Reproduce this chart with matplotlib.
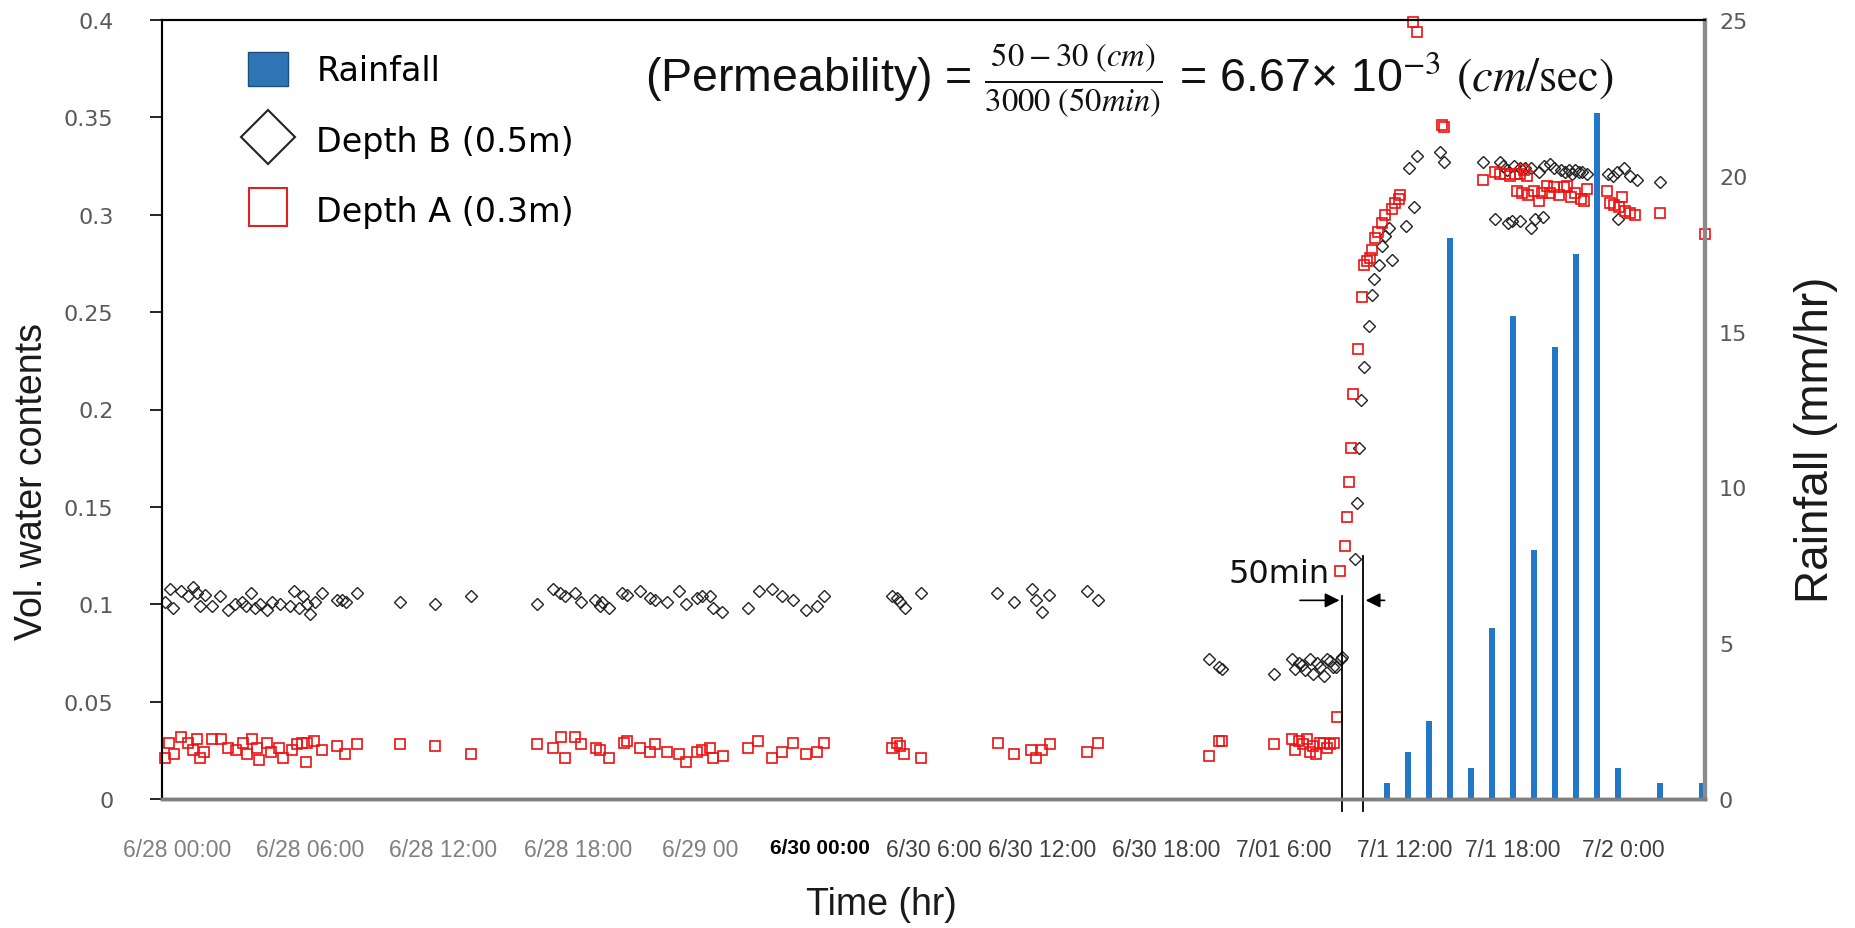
import matplotlib
matplotlib.use("Agg")
import matplotlib.pyplot as plt
from matplotlib.patches import Patch
from matplotlib.lines import Line2D

plt.rcParams['mathtext.fontset'] = 'stix'

# x is elapsed time in (approximate) hours from the left edge of the chart
tick_pos = [0.85, 7.65, 14.45, 21.3, 27.55, 33.65, 39.45, 45.0, 51.3, 57.3, 63.5, 69.0, 74.65]
tick_labels = ["6/28 00:00", "6/28 06:00", "6/28 12:00", "6/28 18:00", "6/29 00", "6/30 00:00",
               "6/30 6:00", "6/30 12:00", "6/30 18:00", "7/01 6:00", "7/1 12:00", "7/1 18:00", "7/2 0:00"]
tick_colors = ['#808080'] * 5 + ['#000000'] + ['#404040'] * 7

vwc_ticks = [0, 0.05, 0.1, 0.15, 0.2, 0.25, 0.3, 0.35, 0.4]
vwc_tick_labels = ['0', '0.05', '0.1', '0.15', '0.2', '0.25', '0.3', '0.35', '0.4']
rain_ticks = [0, 5, 10, 15, 20, 25]

# hourly rainfall (mm/hr)
rain_t = [62.6, 63.67, 64.74, 65.81, 66.88, 67.95, 69.02, 70.09, 71.16, 72.23, 73.3, 74.37, 76.51, 78.65]
rain_mm = [0.5, 1.5, 2.5, 18, 1, 5.5, 15.5, 8, 14.5, 17.5, 22, 1, 0.5, 0.5]

# Depth B (0.5 m) volumetric water content
depth_b_t = [0.26, 0.51, 0.68, 1.05, 1.45, 1.67, 1.87, 2.04, 2.30, 2.64, 3.06, 3.49, 3.83, 4.17, 4.39,
             4.63, 4.85, 5.10, 5.44, 5.70, 6.12, 6.63, 6.84, 7.11, 7.31, 7.48, 7.65, 7.91, 8.28, 9.01,
             9.27, 9.49, 10.07, 12.24, 14.03, 15.85, 19.25, 20.03, 20.41, 20.66, 21.17,
             21.46, 22.20, 22.42, 22.54, 22.88, 23.56, 23.81, 24.49, 25.00, 25.26, 25.85, 26.45, 26.84,
             27.38, 27.64, 28.06, 28.20, 28.66, 29.97, 30.53, 31.21, 31.72, 32.28, 32.96, 33.50, 33.85,
             37.33, 37.59, 37.76, 38.01, 38.81,
             42.69, 43.58, 44.48, 44.70, 44.99, 45.33, 47.28, 47.83,
             53.49, 54.00, 54.17, 56.84, 57.74, 57.91, 58.08, 58.25, 58.42, 58.64, 58.81, 59.02, 59.15,
             59.36, 59.53, 59.66, 59.83, 60.00, 60.21, 60.29,
             60.95, 61.05, 61.15, 61.25, 61.39, 61.65, 61.82, 61.94, 62.16, 62.33, 62.50, 62.67, 62.84,
             63.57, 63.94, 63.69, 64.11, 65.30, 65.47,
             67.46, 68.36, 68.50, 68.70, 69.04, 69.38, 69.64, 69.93, 70.32, 70.61, 70.91, 71.08, 71.43,
             71.68, 71.85, 72.02, 72.19, 72.36, 72.53, 72.79, 73.84, 74.11, 74.32, 74.69, 75.00, 75.34,
             76.49,
             68.11, 68.74, 68.96, 69.38, 69.93, 70.15, 70.54, 74.35]
depth_b = [0.101, 0.108, 0.098, 0.107, 0.104, 0.109, 0.106, 0.099, 0.105, 0.099, 0.104, 0.097, 0.100,
           0.101, 0.099, 0.106, 0.098, 0.100, 0.097, 0.101, 0.100, 0.099, 0.107, 0.098, 0.104, 0.100,
           0.095, 0.101, 0.106, 0.102, 0.102, 0.101, 0.106, 0.101, 0.100, 0.104, 0.100, 0.108, 0.106,
           0.104, 0.106,
           0.101, 0.102, 0.099, 0.101, 0.098, 0.106, 0.105, 0.107, 0.103, 0.102, 0.101, 0.107, 0.100,
           0.103, 0.104, 0.104, 0.098, 0.096, 0.098, 0.107, 0.108, 0.104, 0.102, 0.097, 0.099, 0.104,
           0.104, 0.103, 0.101, 0.098, 0.106,
           0.106, 0.101, 0.108, 0.102, 0.096, 0.105, 0.107, 0.102,
           0.072, 0.068, 0.067, 0.064, 0.072, 0.067, 0.070, 0.069, 0.066, 0.072, 0.064, 0.070, 0.068,
           0.063, 0.072, 0.071, 0.068, 0.068, 0.072, 0.073,
           0.123, 0.152, 0.180, 0.205, 0.222, 0.243, 0.259, 0.267, 0.274, 0.284, 0.289, 0.293, 0.277,
           0.294, 0.304, 0.324, 0.330, 0.332, 0.327,
           0.327, 0.327, 0.325, 0.323, 0.325, 0.324, 0.324, 0.324, 0.322, 0.325, 0.326, 0.324, 0.323,
           0.322, 0.323, 0.321, 0.323, 0.322, 0.322, 0.321, 0.321, 0.320, 0.322, 0.324, 0.320, 0.318,
           0.317,
           0.298, 0.296, 0.297, 0.297, 0.293, 0.298, 0.299, 0.298]

# Depth A (0.3 m) volumetric water content
depth_a_t = [0.26, 0.48, 0.71, 1.05, 1.45, 1.67, 1.90, 2.04, 2.24, 2.64, 3.10, 3.49, 3.88, 4.22, 4.46,
             4.68, 4.93, 5.07, 5.44, 5.65, 6.09, 6.26, 6.72, 7.01, 7.23, 7.45, 7.48, 7.86, 8.28, 9.05,
             9.44, 10.07, 12.24, 14.03, 15.85, 19.25, 20.03, 20.44, 20.66, 21.17,
             21.46, 22.25, 22.42, 22.88, 23.64, 23.81, 24.46, 25.00, 25.26, 25.85, 26.45, 26.84, 27.38,
             27.64, 28.06, 28.20, 28.69, 29.97, 30.48, 31.21, 31.72, 32.28, 32.96, 33.50, 33.85,
             37.33, 37.59, 37.76, 37.93, 38.81,
             42.72, 43.58, 44.43, 44.70, 44.99, 45.38, 47.28, 47.83,
             53.49, 54.00, 54.17, 56.84, 57.74, 57.91, 58.08, 58.30, 58.50, 58.64, 58.81, 58.98, 59.15,
             59.36, 59.53, 59.66, 59.87, 60.04, 60.18,
             60.45, 60.55, 60.65, 60.75, 60.85, 61.08, 61.31, 61.39, 61.56, 61.73, 61.82, 61.99, 62.11,
             62.33, 62.50, 62.84, 63.01, 63.18, 63.26, 63.91, 64.11, 65.39, 65.50,
             67.46, 68.11, 68.36, 68.62, 68.87, 69.13, 69.38, 69.55, 69.72,
             69.21, 69.47, 69.76, 70.07, 70.32, 70.49, 70.74, 70.91, 71.08, 71.34, 71.59, 71.77, 71.94,
             72.19, 72.45, 72.61, 72.79, 73.81, 73.98, 74.15, 74.40, 74.57, 74.74, 75.00, 75.25, 76.49,
             78.82]
depth_a = [0.021, 0.029, 0.023, 0.032, 0.029, 0.025, 0.031, 0.021, 0.024, 0.031, 0.031, 0.026, 0.025,
           0.029, 0.023, 0.031, 0.026, 0.020, 0.029, 0.024, 0.026, 0.021, 0.025, 0.028, 0.029, 0.019,
           0.029, 0.030, 0.025, 0.027, 0.023, 0.028, 0.028, 0.027, 0.023, 0.028, 0.026, 0.032, 0.021,
           0.032,
           0.028, 0.026, 0.025, 0.021, 0.029, 0.030, 0.026, 0.024, 0.028, 0.024, 0.023, 0.019, 0.024,
           0.025, 0.026, 0.021, 0.022, 0.026, 0.030, 0.021, 0.024, 0.029, 0.023, 0.024, 0.029,
           0.026, 0.029, 0.027, 0.023, 0.021,
           0.029, 0.023, 0.025, 0.021, 0.025, 0.028, 0.024, 0.029,
           0.022, 0.030, 0.030, 0.028, 0.031, 0.025, 0.030, 0.028, 0.031, 0.024, 0.027, 0.023, 0.029,
           0.029, 0.026, 0.028, 0.029, 0.042, 0.117,
           0.130, 0.145, 0.163, 0.180, 0.208, 0.231, 0.258, 0.274, 0.276, 0.278, 0.282, 0.288, 0.291,
           0.296, 0.300, 0.303, 0.306, 0.308, 0.310, 0.399, 0.394, 0.346, 0.345,
           0.318, 0.322, 0.321, 0.321, 0.320, 0.321, 0.321, 0.323, 0.320,
           0.312, 0.311, 0.310, 0.312, 0.307, 0.311, 0.315, 0.311, 0.314, 0.310, 0.314, 0.315, 0.309,
           0.311, 0.308, 0.307, 0.313, 0.312, 0.306, 0.305, 0.304, 0.309, 0.302, 0.301, 0.300, 0.301,
           0.290]

W, H = 1855, 929
fig = plt.figure(figsize=(W / 100, H / 100), dpi=100)
ax = fig.add_axes([162 / W, 129 / H, 1543 / W, 779 / H])
ax2 = ax.twinx()

ax.plot(depth_b_t, depth_b, ls='none', marker='D', ms=6, mfc='none', mec='#222222', mew=1.0)
ax.plot(depth_a_t, depth_a, ls='none', marker='s', ms=6.5, mfc='none', mec='#ee1111', mew=1.2,
        clip_on=False)
ax2.bar(rain_t, rain_mm, width=0.3, color='#2277c8')

ax.set_xlim(0.1, 78.8)
ax.set_ylim(0, 0.4)
ax2.set_ylim(0, 25)

ax.set_yticks(vwc_ticks, vwc_tick_labels)
ax.tick_params(axis='y', direction='out', length=9, width=1.2, color='black',
               labelcolor='#595959', labelsize=16, pad=26)
ax.set_xticks(tick_pos, tick_labels)
ax.tick_params(axis='x', length=0, pad=28, labelsize=16.5)
for lab, c in zip(ax.get_xticklabels(), tick_colors):
    lab.set_color(c)
    lab.set_family('Liberation Sans')
    if c == '#000000':
        lab.set_fontweight('bold')
        lab.set_fontsize(15)
ax2.set_yticks(rain_ticks)
ax2.tick_params(axis='y', length=0, pad=10, labelcolor='#595959', labelsize=16)

for a in (ax, ax2):
    a.spines['left'].set_color('black')
    a.spines['left'].set_linewidth(1.5)
    a.spines['top'].set_color('black')
    a.spines['top'].set_linewidth(1.5)
    a.spines['bottom'].set_color('#7f7f7f')
    a.spines['bottom'].set_linewidth(2.5)
    a.spines['right'].set_color('#8a8a8a')
    a.spines['right'].set_linewidth(3)

# 50 min lag markers
ax.plot([60.3, 60.3], [-0.006, 0.104], color='black', lw=1.3, clip_on=False)
ax.plot([61.35, 61.35], [-0.006, 0.125], color='black', lw=1.3, clip_on=False)
ax.annotate('', xy=(60.3, 0.102), xytext=(58.0, 0.102),
            arrowprops=dict(arrowstyle='-|>', color='black', lw=1.2, mutation_scale=22))
ax.annotate('', xy=(61.35, 0.102), xytext=(62.6, 0.102),
            arrowprops=dict(arrowstyle='-|>', color='black', lw=1.2, mutation_scale=22))
ax.text(57.1, 0.116, '50min', ha='center', va='center', fontsize=23, color='#111111')

fig.text(32 / W, 1 - 482 / H, 'Vol. water contents', rotation=90, ha='center', va='center',
         family='Liberation Sans', fontsize=27, color='#1a1a1a')
fig.text(881 / W, 1 - 905 / H, 'Time (hr)', ha='center', va='center',
         family='Liberation Sans', fontsize=27, color='#1a1a1a')
fig.text(1816 / W, 1 - 440 / H, 'Rainfall (mm/hr)', rotation=90, ha='center', va='center',
         family='Liberation Sans', fontsize=33, color='#1a1a1a')

fig.text(645 / W, 1 - 80 / H,
         r'(Permeability) = $\frac{50-30\ (cm)}{3000\ (50min)}$ = 6.67× 10$^{-3}$ $(cm/\mathrm{sec})$',
         ha='left', va='center', fontsize=33.5, family='Liberation Sans', color='#111111')

handles = [Patch(facecolor='#2e75b6', edgecolor='#1f4e79'),
           Line2D([], [], ls='none', marker='D', ms=27, mfc='white', mec='#222222', mew=1.5),
           Line2D([], [], ls='none', marker='s', ms=28, mfc='white', mec='#dd2222', mew=1.5)]
ax2.legend(handles, ['Rainfall', 'Depth B (0.5m)', 'Depth A (0.3m)'], loc='upper left',
           bbox_to_anchor=(248 / W, 1 - 53 / H), bbox_transform=fig.transFigure, frameon=False,
           prop={'family': 'DejaVu Sans', 'size': 24}, handlelength=1.2, handleheight=1.2,
           handletextpad=0.85, labelspacing=1.05, borderpad=0, borderaxespad=0)

fig.savefig('out.png', dpi=100)
